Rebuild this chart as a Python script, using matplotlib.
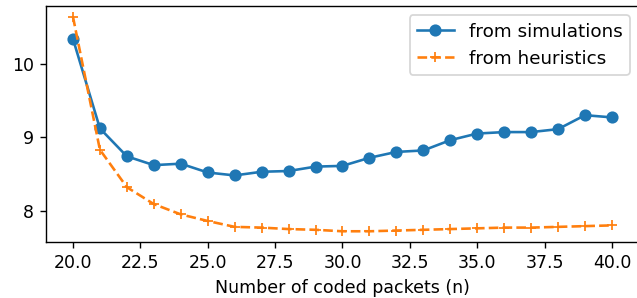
import matplotlib
matplotlib.use("Agg")
import matplotlib.pyplot as plt

# number of coded packets
n = list(range(20, 41))

# values
sim = [10.34, 9.12, 8.74, 8.62, 8.64, 8.52, 8.48, 8.53, 8.54, 8.60, 8.61,
       8.72, 8.80, 8.82, 8.96, 9.05, 9.07, 9.07, 9.11, 9.30, 9.27]
heur = [10.64, 8.83, 8.32, 8.09, 7.95, 7.86, 7.78, 7.77, 7.75, 7.74, 7.72,
        7.72, 7.73, 7.74, 7.75, 7.76, 7.77, 7.77, 7.78, 7.79, 7.80]

fig, ax = plt.subplots(figsize=(637 / 125, 298 / 125), dpi=125)
ax.plot(n, sim, 'o-', label='from simulations')
ax.plot(n, heur, '+--', label='from heuristics')
ax.set_xlabel('Number of coded packets (n)')
ax.legend(loc='upper right', fontsize=10.6)

fig.subplots_adjust(left=46 / 637, right=1.003, bottom=(298 - 242) / 298, top=(298 - 6) / 298)
fig.savefig('out.png', dpi=125)
